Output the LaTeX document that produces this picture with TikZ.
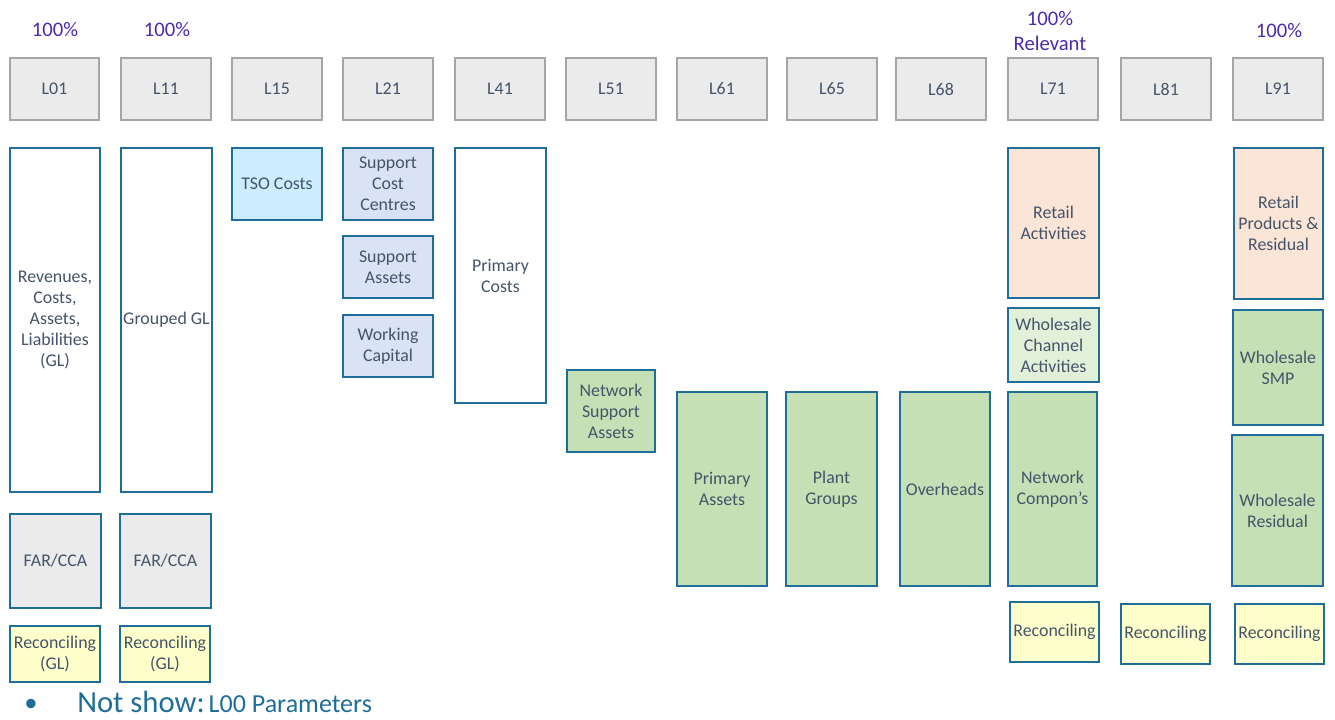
\documentclass[tikz,border=0pt]{standalone}
\usepackage{fontspec}
\setmainfont{Carlito}
\definecolor{txt}{HTML}{44546A}
\definecolor{bord}{HTML}{1F6E9A}
\definecolor{hdrfill}{HTML}{EBEBEB}
\definecolor{hdrbord}{HTML}{A6A6A6}
\definecolor{purp}{HTML}{4B2AAE}
\definecolor{tso}{HTML}{CCECFF}
\definecolor{supp}{HTML}{DAE3F3}
\definecolor{grn}{HTML}{C5E0B4}
\definecolor{lgrn}{HTML}{E2F0D9}
\definecolor{ret}{HTML}{FBE5D6}
\definecolor{recon}{HTML}{FFFFCC}
\definecolor{bullet}{HTML}{1F6E9A}
\tikzset{
  base/.style={rectangle, inner sep=0pt, outer sep=0pt, align=center, text=txt,
    font=\fontsize{13.4pt}{15.75pt}\selectfont},
  hdr/.style={base, draw=hdrbord, fill=hdrfill, line width=2.2pt},
  bx/.style={base, draw=bord, line width=2.2pt},
  pct/.style={text=purp, font=\fontsize{15.5pt}{18.5pt}\selectfont, align=center, inner sep=0pt},
}
\newcommand{\mybox}[7]{%
  \pgfmathsetmacro{\bw}{(#5-#3)*0.75}%
  \pgfmathsetmacro{\bh}{(#6-#4)*0.75}%
  \node[#2, minimum width=\bw pt, minimum height=\bh pt] (#1) at ({(#3+#5)/2},{(#4+#6)/2}) {#7};%
}
\begin{document}
\begin{tikzpicture}[x=0.75pt,y=-0.75pt]
\useasboundingbox (0,0) rectangle (1335,720);
% headers
\mybox{h01}{hdr}{10}{58}{99}{120}{L01}
\mybox{h11}{hdr}{121}{58}{211}{120}{L11}
\mybox{h15}{hdr}{232}{58}{322}{120}{L15}
\mybox{h21}{hdr}{343}{58}{433}{120}{L21}
\mybox{h41}{hdr}{455}{58}{545}{120}{L41}
\mybox{h51}{hdr}{566}{58}{656}{120}{L51}
\mybox{h61}{hdr}{677}{58}{767}{120}{L61}
\mybox{h65}{hdr}{787}{58}{877}{120}{L65}
\mybox{h68}{hdr}{896}{58}{986}{120}{L68}
\mybox{h71}{hdr}{1008}{58}{1098}{120}{L71}
\mybox{h81}{hdr}{1121}{58}{1211}{120}{L81}
\mybox{h91}{hdr}{1233}{58}{1323}{120}{L91}
% percentages
\node[pct] (p01) at (55,30) {100\%};
\node[pct] (p11) at (167,30) {100\%};
\node[pct] (p71) at (1050,31) {100\%\\Relevant};
\node[pct] (p91) at (1279,31) {100\%};
% L01
\mybox{rev}{bx, fill=white}{10}{148}{100}{492}{Revenues,\\Costs,\\Assets,\\Liabilities\\(GL)}
\mybox{far1}{bx, fill=hdrfill}{10}{514}{101}{608}{FAR/CCA}
\mybox{rec1}{bx, fill=recon}{10}{626}{100}{682}{Reconciling\\(GL)}
% L11
\mybox{ggl}{bx, fill=white}{121}{148}{212}{492}{Grouped GL}
\mybox{far2}{bx, fill=hdrfill}{120}{514}{211}{608}{FAR/CCA}
\mybox{rec2}{bx, fill=recon}{120}{626}{210}{682}{Reconciling\\(GL)}
% L15
\mybox{tso}{bx, fill=tso}{232}{148}{322}{220}{TSO Costs}
% L21
\mybox{scc}{bx, fill=supp}{343}{148}{433}{220}{Support\\Cost\\Centres}
\mybox{sa}{bx, fill=supp}{343}{236}{433}{298}{Support\\Assets}
\mybox{wc}{bx, fill=supp}{343}{315}{433}{377}{Working\\Capital}
% L41
\mybox{pc}{bx, fill=white}{455}{148}{546}{403}{Primary\\Costs}
% L51
\mybox{nsa}{bx, fill=grn}{567}{370}{655}{452}{Network\\Support\\Assets}
% L61 L65 L68
\mybox{pa}{bx, fill=grn}{677}{392}{767}{586}{Primary\\Assets}
\mybox{pg}{bx, fill=grn}{786}{392}{877}{586}{Plant\\Groups}
\mybox{oh}{bx, fill=grn}{900}{392}{990}{586}{Overheads}
% L71
\mybox{ra}{bx, fill=ret}{1008}{148}{1099}{298}{Retail\\Activities}
\mybox{wca}{bx, fill=lgrn}{1008}{308}{1099}{382}{Wholesale\\Channel\\Activities}
\mybox{nc}{bx, fill=grn}{1008}{392}{1097}{586}{Network\\Compon’s}
\mybox{rec71}{bx, fill=recon}{1010}{602}{1099}{662}{Reconciling}
% L81
\mybox{rec81}{bx, fill=recon}{1121}{604}{1210}{664}{Reconciling}
% L91
\mybox{rpr}{bx, fill=ret}{1234}{148}{1323}{299}{Retail\\Products \&\\Residual}
\mybox{wsmp}{bx, fill=grn}{1233}{310}{1323}{425}{Wholesale\\SMP}
\mybox{wres}{bx, fill=grn}{1232}{435}{1323}{586}{Wholesale\\Residual}
\mybox{rec91}{bx, fill=recon}{1235}{604}{1324}{664}{Reconciling}
% footer
\node[text=bullet, font=\fontsize{20pt}{22pt}\selectfont, inner sep=0pt] (bul) at (31,705) {•};
\node[text=bullet, anchor=base west, inner sep=0pt] (ns) at (77,712)
  {{\fontsize{23pt}{26pt}\selectfont Not show:}\hspace{3pt}{\fontsize{19.5pt}{22pt}\selectfont L00 Parameters}};
\end{tikzpicture}
\end{document}
